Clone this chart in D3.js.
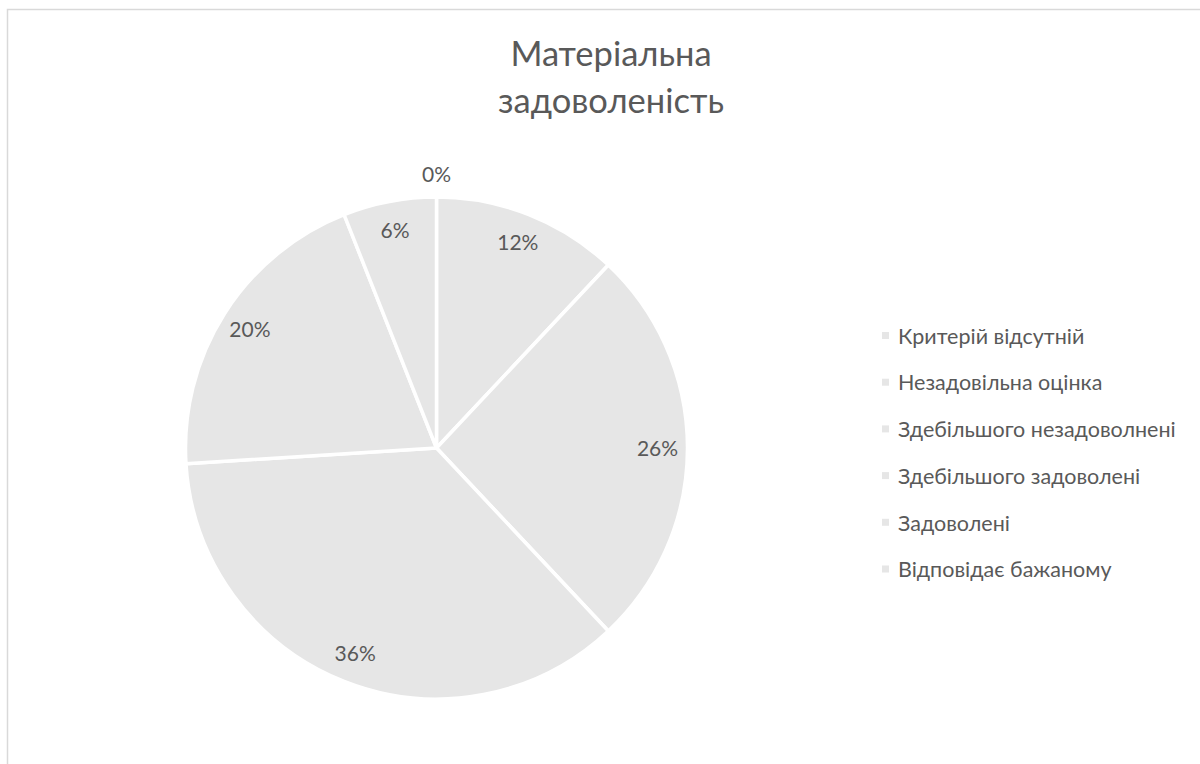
<!DOCTYPE html>
<html>
  <head>
    <meta charset="utf-8">
    <title>Матеріальна задоволеність</title>
    <script src="https://d3js.org/d3.v7.min.js"></script>
    <style>
      body { margin: 0; background: #fff; }
      text { font-family: Lato, "Open Sans", sans-serif; fill: #595959; }
    </style>
  </head>

  <body>
    <script>
      var categories = ["Критерій відсутній", "Незадовільна оцінка", "Здебільшого незадоволнені",
                        "Здебільшого задоволені", "Задоволені", "Відповідає бажаному"];
      var shares = [0, 12, 26, 36, 20, 6];
      var titleLines = ["Матеріальна", "задоволеність"];

      var width = 1200, height = 764;
      var cx = 436.5, cy = 448, radius = 251;

      var svg = d3.select("body")
        .append("svg")
          .attr("width", width)
          .attr("height", height);

      // chart frame (cut off at right and bottom)
      svg.append("rect")
          .attr("x", 7.5)
          .attr("y", 9.5)
          .attr("width", 1400)
          .attr("height", 1000)
          .style("fill", "none")
          .style("stroke", "#d9d9d9")
          .style("stroke-width", 1.5);

      svg.append("text")
          .attr("x", 611)
          .attr("text-anchor", "middle")
          .style("font-size", "34.5px")
        .selectAll("tspan")
        .data(titleLines)
        .enter()
        .append("tspan")
          .attr("x", 611)
          .attr("y", (d, i) => 66 + i * 47)
          .text(d => d);

      var pie = d3.pie().sort(null).value(d => d);
      var arcs = pie(shares);
      var arc = d3.arc().innerRadius(0).outerRadius(radius);
      var labelArc = d3.arc().innerRadius(221).outerRadius(221);
      var outerArc = d3.arc().innerRadius(274).outerRadius(274);

      var g = svg.append("g")
          .attr("transform", "translate(" + cx + "," + cy + ")");

      g.selectAll("path")
        .data(arcs)
        .enter()
        .append("path")
          .attr("d", arc)
          .style("fill", "#e6e6e6")
          .style("stroke", "#fff")
          .style("stroke-width", 3.5)
          .style("stroke-linejoin", "round");

      g.selectAll("text.lbl")
        .data(arcs)
        .enter()
        .append("text")
          .attr("class", "lbl")
          .attr("transform", d => "translate(" + (d.value === 0 ? outerArc : labelArc).centroid(d) + ")")
          .attr("text-anchor", "middle")
          .attr("dy", "0.36em")
          .style("font-size", "21px")
          .text(d => d.value + "%");

      var legend = svg.append("g")
          .attr("transform", "translate(882,336)");

      var rows = legend.selectAll("g")
        .data(categories)
        .enter()
        .append("g")
          .attr("transform", (d, i) => "translate(0," + i * 46.7 + ")");

      rows.append("rect")
          .attr("x", 0)
          .attr("y", -4)
          .attr("width", 7)
          .attr("height", 7)
          .style("fill", "#e6e6e6");

      rows.append("text")
          .attr("x", 16)
          .attr("dy", "0.36em")
          .style("font-size", "21.5px")
          .text(d => d);
    </script>
  </body>
</html>
